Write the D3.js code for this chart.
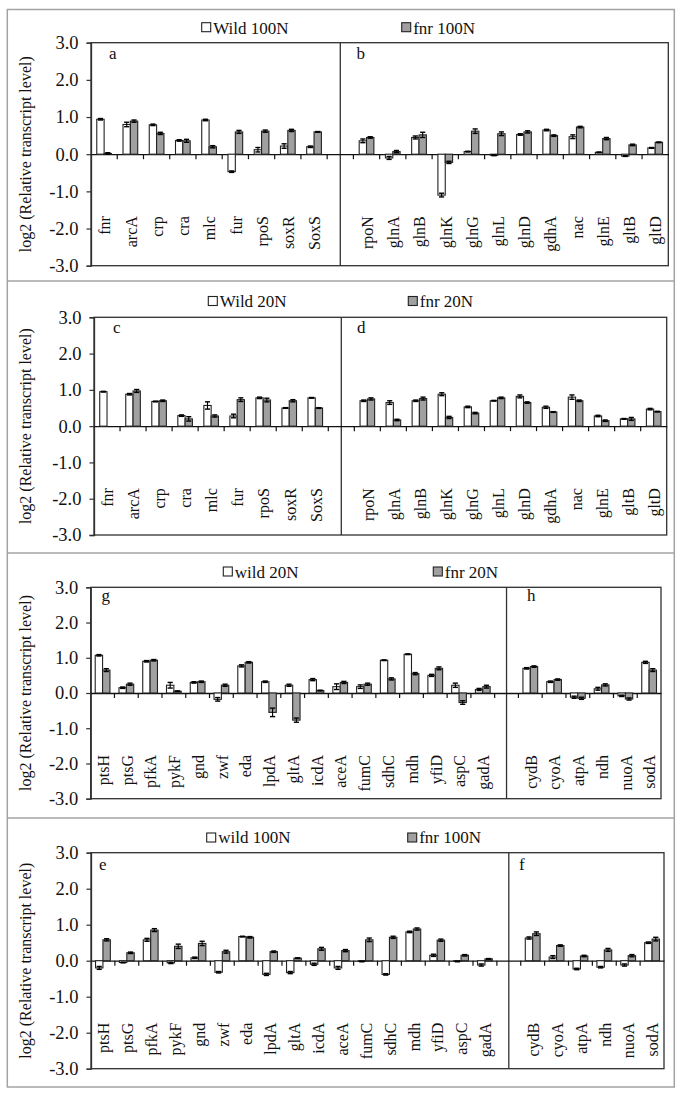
<!DOCTYPE html>
<html><head><meta charset="utf-8">
<script src="https://cdn.jsdelivr.net/npm/d3@7"></script>
<style>
html,body{margin:0;padding:0;background:#fff;}
svg{display:block;font-family:"Liberation Serif","Times New Roman",serif;}
</style></head>
<body><svg id="c" width="685" height="1097"></svg>
<script>
// ---------- DATA ----------
const yTicks = [-3, -2, -1, 0, 1, 2, 3];

const catsReg = ["fnr","arcA","crp","cra","mlc","fur","rpoS","soxR","SoxS"];
const catsN   = ["rpoN","glnA","glnB","glnK","glnG","glnL","glnD","gdhA","nac","glnE","gltB","gltD"];
const catsMet = ["ptsH","ptsG","pfkA","pykF","gnd","zwf","eda","lpdA","gltA","icdA","aceA","fumC","sdhC","mdh","yfiD","aspC","gadA"];
const catsResp = ["cydB","cyoA","atpA","ndh","nuoA","sodA"];

// panel a / b : 100N
const wildA = [0.94,0.80,0.79,0.37,0.92,-0.47,0.12,0.22,0.20];
const fnrA  = [0.02,0.89,0.56,0.36,0.20,0.60,0.62,0.64,0.60];
const wildAErr = [0.02,0.06,0.02,0.02,0.02,0.02,0.06,0.06,0.02];
const fnrAErr  = [0.02,0.03,0.03,0.04,0.03,0.04,0.03,0.03,0.01];
const wildB = [0.36,-0.10,0.45,-1.10,0.07,-0.03,0.53,0.65,0.47,0.05,-0.05,0.17];
const fnrB  = [0.45,0.07,0.52,-0.22,0.62,0.55,0.60,0.50,0.73,0.42,0.25,0.32];
const wildBErr = [0.05,0.04,0.04,0.05,0.01,0.01,0.02,0.02,0.05,0.01,0.01,0.01];
const fnrBErr  = [0.02,0.03,0.07,0.03,0.06,0.05,0.03,0.02,0.02,0.03,0.02,0.01];

// panel c / d : 20N
const wildC = [0.95,0.88,0.68,0.29,0.57,0.28,0.78,0.50,0.78];
const fnrC  = [0.00,0.97,0.70,0.20,0.28,0.73,0.72,0.70,0.50];
const wildCErr = [0.01,0.02,0.01,0.02,0.10,0.05,0.02,0.01,0.01];
const fnrCErr  = [0.00,0.04,0.02,0.06,0.03,0.05,0.05,0.03,0.01];
const wildD = [0.70,0.65,0.70,0.88,0.53,0.70,0.82,0.52,0.80,0.28,0.20,0.47];
const fnrD  = [0.75,0.17,0.76,0.24,0.36,0.78,0.65,0.39,0.70,0.15,0.20,0.40];
const wildDErr = [0.02,0.05,0.02,0.04,0.02,0.01,0.04,0.03,0.06,0.02,0.01,0.02];
const fnrDErr  = [0.03,0.02,0.04,0.03,0.02,0.02,0.02,0.01,0.02,0.02,0.04,0.01];

// panel g / h : 20N
const wildG = [1.07,0.15,0.90,0.22,0.30,-0.18,0.77,0.32,0.22,0.38,0.18,0.18,0.93,1.10,0.50,0.22,0.10];
const fnrG  = [0.65,0.25,0.93,0.05,0.32,0.22,0.87,-0.55,-0.77,0.07,0.30,0.25,0.40,0.55,0.70,-0.27,0.18];
const wildGErr = [0.02,0.02,0.02,0.08,0.02,0.05,0.03,0.02,0.03,0.03,0.08,0.05,0.01,0.01,0.03,0.06,0.03];
const fnrGErr  = [0.04,0.03,0.02,0.01,0.02,0.03,0.02,0.12,0.06,0.01,0.03,0.03,0.03,0.03,0.04,0.05,0.04];
const wildH = [0.70,0.32,-0.12,0.12,-0.08,0.87];
const fnrH  = [0.75,0.38,-0.15,0.23,-0.17,0.65];
const wildHErr = [0.02,0.02,0.03,0.04,0.02,0.03];
const fnrHErr  = [0.02,0.02,0.03,0.03,0.03,0.04];

// panel e / f : 100N
const wildE = [-0.20,-0.05,0.58,-0.06,0.08,-0.32,0.67,-0.38,-0.33,-0.10,-0.20,-0.02,-0.38,0.80,0.15,-0.02,-0.12];
const fnrE  = [0.58,0.22,0.85,0.40,0.48,0.25,0.65,0.25,0.07,0.33,0.28,0.58,0.65,0.88,0.57,0.15,0.05];
const wildEErr = [0.04,0.01,0.04,0.02,0.02,0.02,0.01,0.03,0.03,0.03,0.04,0.01,0.02,0.02,0.03,0.01,0.03];
const fnrEErr  = [0.03,0.02,0.04,0.06,0.06,0.04,0.02,0.02,0.01,0.04,0.03,0.05,0.03,0.03,0.03,0.02,0.01];
const wildF = [0.63,0.10,-0.23,-0.18,-0.12,0.50];
const fnrF  = [0.75,0.42,0.13,0.30,0.14,0.60];
const wildFErr = [0.03,0.04,0.02,0.02,0.03,0.02];
const fnrFErr  = [0.05,0.02,0.02,0.04,0.03,0.05];

const legendWild = ["Wild 100N","Wild 20N","wild 20N","wild 100N"];
const legendFnr  = ["fnr 100N","fnr 20N","fnr 20N","fnr 100N"];
const panelLetters = [["a","b"],["c","d"],["g","h"],["e","f"]];
const yTitle = "log2 (Relative transcript level)";

// ---------- LAYOUT ----------
const panels = [
  {top:42.7,bottom:265.7,left:91,right:668.3, c1:catsReg,c2:catsN, w1:wildA,f1:fnrA,we1:wildAErr,fe1:fnrAErr, w2:wildB,f2:fnrB,we2:wildBErr,fe2:fnrBErr,
   leg:{sq1:[201.7,22.7],sq2:[401.7,22.7],base:33.5}, letters:[[109,59],[356.5,59]], ratio:0.28},
  {top:317.3,bottom:535,left:94,right:666.7, c1:catsReg,c2:catsN, w1:wildC,f1:fnrC,we1:wildCErr,fe1:fnrCErr, w2:wildD,f2:fnrD,we2:wildDErr,fe2:fnrDErr,
   leg:{sq1:[208.3,296.5],sq2:[408.3,296.5],base:307.3}, letters:[[113,333],[357,333]], ratio:0.28},
  {top:587.3,bottom:798.7,left:90.7,right:661, c1:catsMet,c2:catsResp, w1:wildG,f1:fnrG,we1:wildGErr,fe1:fnrGErr, w2:wildH,f2:fnrH,we2:wildHErr,fe2:fnrHErr,
   leg:{sq1:[223.3,567],sq2:[433.3,567],base:577.7}, letters:[[101.5,601],[527,601]], ratio:0.31},
  {top:852.7,bottom:1068.7,left:91,right:664, c1:catsMet,c2:catsResp, w1:wildE,f1:fnrE,we1:wildEErr,fe1:fnrEErr, w2:wildF,f2:fnrF,we2:wildFErr,fe2:fnrFErr,
   leg:{sq1:[206.7,833],sq2:[407.7,833],base:843.3}, letters:[[99,870],[519,870]], ratio:0.31}
];

const svg = d3.select("#c");
const frameColor = "#a3a3a3";
const axisColor = "#303030";
const fnrFill = "#a0a0a0";

// outer frame and separators
svg.append("rect").attr("x",7.3).attr("y",9.5).attr("width",667).attr("height",1077.5)
  .attr("fill","none").attr("stroke",frameColor).attr("stroke-width",1.5);
[281,553,818].forEach(y=>{
  svg.append("line").attr("x1",7.3).attr("x2",674.3).attr("y1",y).attr("y2",y)
    .attr("stroke",frameColor).attr("stroke-width",1.5);
});

panels.forEach((p,pi)=>{
  const g = svg.append("g");
  const y = d3.scaleLinear().domain([-3,3]).range([p.bottom,p.top]);
  const domain = p.c1.concat(["__gap"]).concat(p.c2);
  const x = d3.scaleBand().domain(domain).range([p.left,p.right]).paddingInner(0).paddingOuter(0);
  const bw = x.bandwidth();
  const barW = bw*p.ratio;

  // plot frame
  g.append("rect").attr("x",p.left).attr("y",p.top).attr("width",p.right-p.left).attr("height",p.bottom-p.top)
    .attr("fill","none").attr("stroke",axisColor).attr("stroke-width",1.3);
  // divider
  const dx = x("__gap")+bw/2;
  g.append("line").attr("x1",dx).attr("x2",dx).attr("y1",p.top).attr("y2",p.bottom)
    .attr("stroke",axisColor).attr("stroke-width",1.3);

  // y axis
  const yAxis = d3.axisLeft(y).tickValues(yTicks).tickSize(4.5).tickPadding(8)
    .tickFormat(d=>d.toFixed(1));
  const ya = g.append("g").attr("transform",`translate(${p.left},0)`).call(yAxis);
  ya.select(".domain").attr("stroke",axisColor).attr("stroke-width",1.3);
  ya.selectAll(".tick line").attr("stroke",axisColor).attr("stroke-width",1.2);
  ya.selectAll(".tick text").attr("font-family","Liberation Serif").attr("font-size",18.5).attr("fill","#111");

  // y title
  g.append("text").attr("transform",`translate(31,${(p.top+p.bottom)/2}) rotate(-90)`)
    .attr("text-anchor","middle").attr("font-size",16).attr("fill","#111").text(yTitle);

  // x axis at zero
  const zero = y(0);
  const boundaries = domain.slice(1).map(d=>x(d));
  const xAxis = d3.axisBottom(x).tickSize(0).tickFormat("");
  const xa = g.append("g").attr("transform",`translate(0,${zero})`).call(xAxis);
  xa.select(".domain").attr("stroke","#111").attr("stroke-width",1.3);
  xa.selectAll(".tick").remove();
  g.selectAll(null).data(boundaries).enter().append("line")
    .attr("x1",d=>d).attr("x2",d=>d).attr("y1",zero).attr("y2",zero+5)
    .attr("stroke","#111").attr("stroke-width",1.2);

  // bars
  function drawSeries(cats, vals, errs, offset, fill){
    const data = cats.map((c,i)=>({c, v:vals[i], e:errs[i]}));
    const bx = d => x(d.c)+bw/2+offset;
    g.selectAll(null).data(data).enter().append("rect")
      .attr("x",d=>bx(d)).attr("width",barW)
      .attr("y",d=>Math.min(y(d.v),zero)).attr("height",d=>Math.abs(y(d.v)-zero))
      .attr("fill",fill).attr("stroke","#222").attr("stroke-width",1.1);
    const eb = data.filter(d=>d.e>0);
    const cw = barW*0.7;
    eb.forEach(d=>{
      const cx = bx(d)+barW/2;
      const y1 = y(d.v+d.e), y2 = y(d.v-d.e);
      g.append("line").attr("x1",cx).attr("x2",cx).attr("y1",y1).attr("y2",y2).attr("stroke","#000").attr("stroke-width",1.1);
      [y1,y2].forEach(yy=>g.append("line").attr("x1",cx-cw/2).attr("x2",cx+cw/2).attr("y1",yy).attr("y2",yy)
        .attr("stroke","#000").attr("stroke-width",1.4));
    });
  }
  drawSeries(p.c1,p.w1,p.we1,-barW,"#fff");
  drawSeries(p.c1,p.f1,p.fe1,0,fnrFill);
  drawSeries(p.c2,p.w2,p.we2,-barW,"#fff");
  drawSeries(p.c2,p.f2,p.fe2,0,fnrFill);

  // category labels
  const labelY = zero+62;
  const cats = p.c1.concat(p.c2);
  g.selectAll(null).data(cats).enter().append("text")
    .attr("transform",d=>`translate(${x(d)+bw/2+1},${labelY}) rotate(-90)`)
    .attr("text-anchor","end").attr("dy","0.33em").attr("font-size",16).attr("fill","#111")
    .text(d=>d);

  // panel letters
  panelLetters[pi].forEach((L,i)=>{
    g.append("text").attr("x",p.letters[i][0]).attr("y",p.letters[i][1])
      .attr("font-size",17).attr("fill","#111").text(L);
  });

  // legend
  const sq = 9;
  [[p.leg.sq1,legendWild[pi],"#fff"],[p.leg.sq2,legendFnr[pi],fnrFill]].forEach(([pos,label,fill])=>{
    g.append("rect").attr("x",pos[0]).attr("y",pos[1]).attr("width",sq).attr("height",sq)
      .attr("fill",fill).attr("stroke","#222").attr("stroke-width",1.1);
    g.append("text").attr("x",pos[0]+sq+2.5).attr("y",p.leg.base)
      .attr("font-size",17).attr("fill","#111").text(label);
  });
});
</script></body></html>
